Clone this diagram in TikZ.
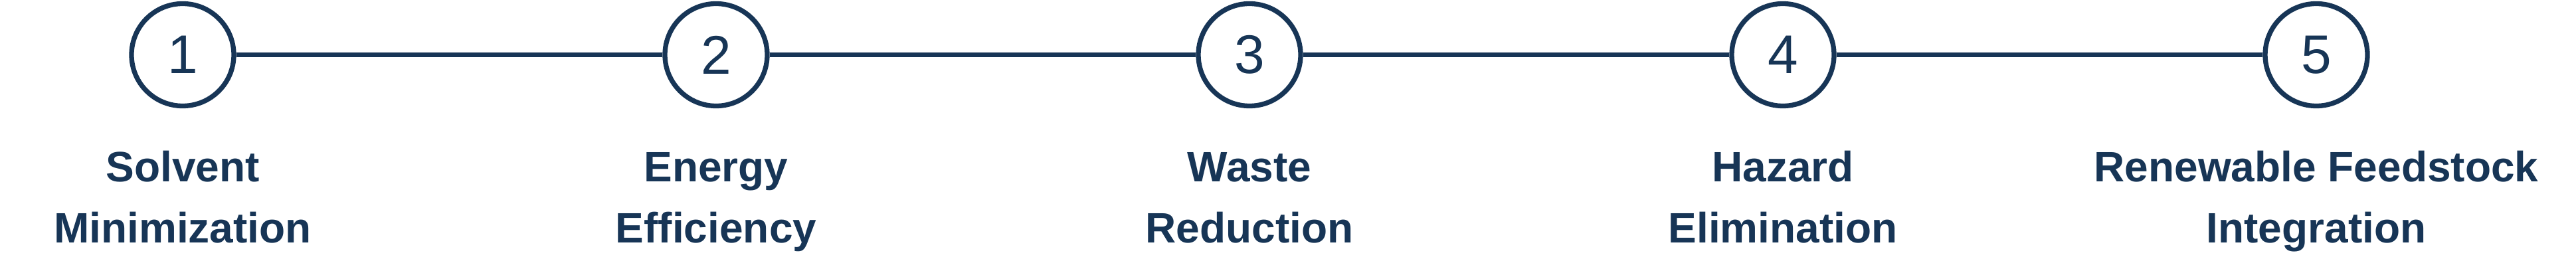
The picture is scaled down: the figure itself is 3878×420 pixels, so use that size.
\documentclass[tikz,border=0pt]{standalone}
\usepackage{fontspec}
\setmainfont{Liberation Sans}
\definecolor{navy}{RGB}{23,53,86}
\begin{document}
\begin{tikzpicture}[x=1pt,y=1pt,
  stepcircle/.style={circle,draw=navy,line width=7.3pt,fill=white,minimum size=154pt,inner sep=0pt,
    font=\fontsize{82}{82}\selectfont,text=navy},
  steplabel/.style={anchor=base,align=center,text=navy,inner sep=0pt,
    font=\fontsize{64}{92}\selectfont\bfseries},
  link/.style={draw=navy,line width=7.3pt}]
\useasboundingbox (0,0) rectangle (3878,420);
\foreach \i/\x in {1/275,2/1078,3/1881,4/2684,5/3487}{
  \node[stepcircle] (c\i) at (\x,337.5) {\i};
}
\draw[link] (c1) -- (c2);
\draw[link] (c2) -- (c3);
\draw[link] (c3) -- (c4);
\draw[link] (c4) -- (c5);
\node[steplabel] (l1) at (275,54) {Solvent\\Minimization};
\node[steplabel] (l2) at (1078,54) {Energy\\Efficiency};
\node[steplabel] (l3) at (1881,54) {Waste\\Reduction};
\node[steplabel] (l4) at (2684,54) {Hazard\\Elimination};
\node[steplabel] (l5) at (3487,54) {Renewable Feedstock\\Integration};
\end{tikzpicture}
\end{document}
